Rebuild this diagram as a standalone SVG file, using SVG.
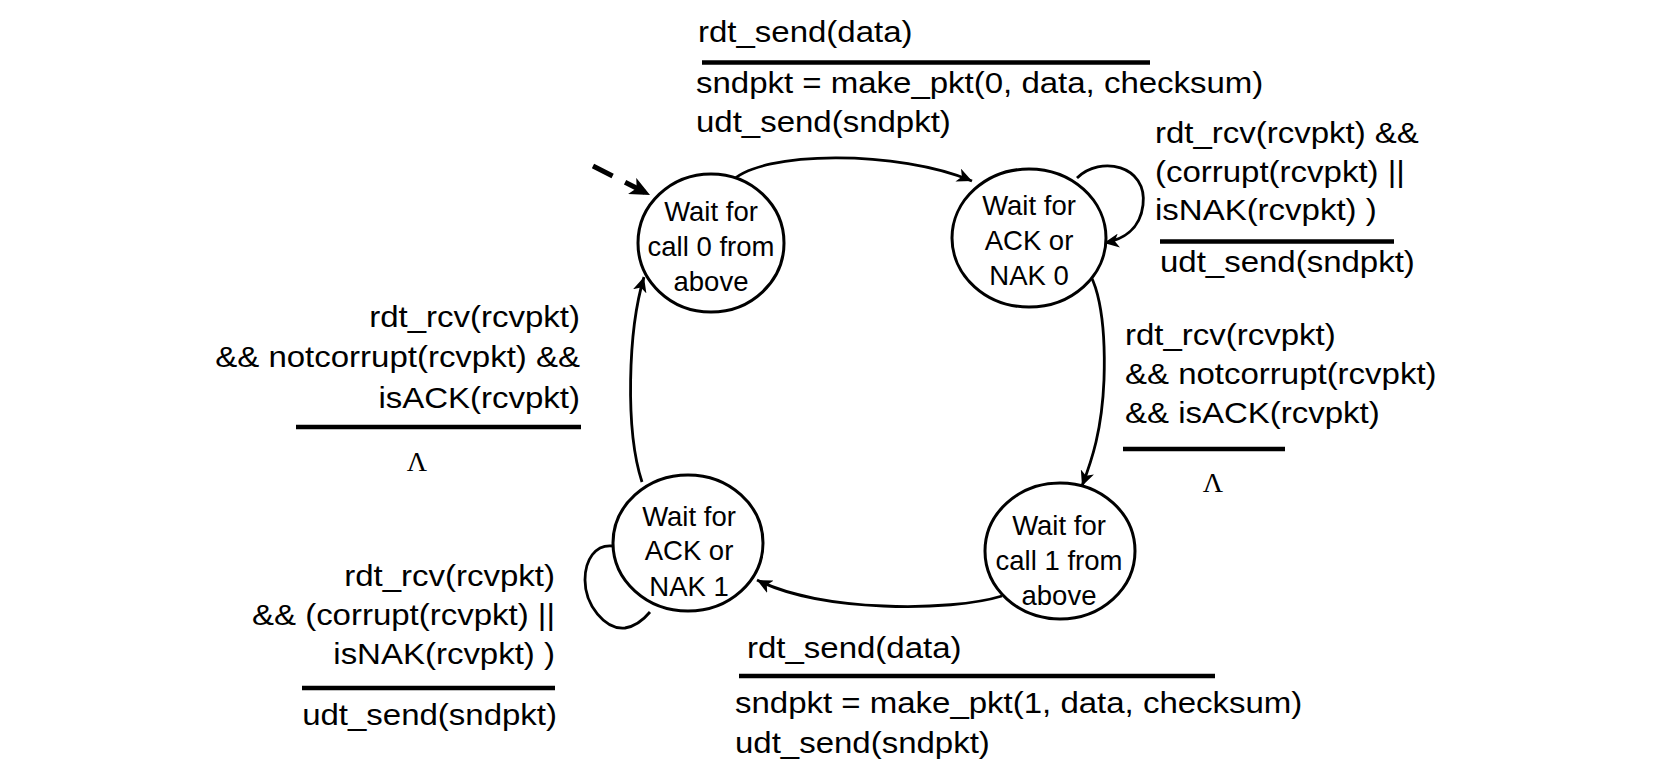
<svg xmlns="http://www.w3.org/2000/svg" width="1661" height="783" viewBox="0 0 1661 783">
<style>
.lbl{font-family:"Liberation Sans",Arial,sans-serif;font-size:30px;fill:#000}
.r{text-anchor:end}
.st{font-family:"Liberation Sans",Arial,sans-serif;font-size:27.5px;fill:#000;text-anchor:middle}
.lam{font-family:"Liberation Serif","Times New Roman",serif;font-size:28px;fill:#000;text-anchor:middle}
.node{fill:#fff;stroke:#000;stroke-width:3}
.bar{stroke:#000;stroke-width:4.5}
.edge{fill:none;stroke:#000;stroke-width:2.8}
</style>
<defs>
<marker id="ah" markerUnits="userSpaceOnUse" markerWidth="16" markerHeight="14" refX="15" refY="7" orient="auto">
<path d="M0,0 L15,7 L0,14 L4,7 z" fill="#000"/>
</marker>
<marker id="ahb" markerUnits="userSpaceOnUse" markerWidth="22" markerHeight="18" refX="20" refY="9" orient="auto">
<path d="M0,0 L20,9 L0,18 L5,9 z" fill="#000"/>
</marker>
</defs>
<rect width="1661" height="783" fill="#fff"/>

<g id="connectors">
<line x1="593" y1="166" x2="650" y2="195" stroke="#000" stroke-width="5" stroke-dasharray="22 14" marker-end="url(#ahb)"/>
<path class="edge" d="M731 182 C760 150 900 150 972 181" marker-end="url(#ah)"/>
<path class="edge" d="M1077 178 C1100 155 1148 165 1143 205 C1140 230 1122 240 1104 243" marker-end="url(#ah)"/>
<path class="edge" d="M1078 262 C1098 272 1106 320 1104 380 C1102 430 1092 460 1082 486" marker-end="url(#ah)"/>
<path class="edge" d="M1002 596 C950 612 820 612 757 580" marker-end="url(#ah)"/>
<path class="edge" d="M642 482 C625 430 628 330 644 277" marker-end="url(#ah)"/>
<path class="edge" d="M613 546 C595 544 585 560 585 580 C585 605 605 630 625 628 C637 626 645 618 650 612"/>
</g>

<g id="s0">
<ellipse class="node" cx="711" cy="243" rx="73" ry="69"/>
<text class="st" transform="translate(711,221) scale(1.0,1)">Wait for</text>
<text class="st" transform="translate(711,256) scale(1.0,1)">call 0 from</text>
<text class="st" transform="translate(711,291) scale(1.0,1)">above</text>
</g>
<g id="s1">
<ellipse class="node" cx="1029" cy="238" rx="77" ry="69"/>
<text class="st" transform="translate(1029,215) scale(1.0,1)">Wait for</text>
<text class="st" transform="translate(1029,250) scale(1.0,1)">ACK or</text>
<text class="st" transform="translate(1029,285) scale(1.0,1)">NAK 0</text>
</g>
<g id="s2">
<ellipse class="node" cx="688" cy="543" rx="75" ry="68"/>
<text class="st" transform="translate(689,526) scale(1.0,1)">Wait for</text>
<text class="st" transform="translate(689,560) scale(1.0,1)">ACK or</text>
<text class="st" transform="translate(689,596) scale(1.0,1)">NAK 1</text>
</g>
<g id="s3">
<ellipse class="node" cx="1060" cy="551" rx="75" ry="68"/>
<text class="st" transform="translate(1059,535) scale(1.0,1)">Wait for</text>
<text class="st" transform="translate(1059,570) scale(1.0,1)">call 1 from</text>
<text class="st" transform="translate(1059,605) scale(1.0,1)">above</text>
</g>

<g id="label-top">
<text class="lbl" transform="translate(698,42) scale(1.1,1)">rdt_send(data)</text>
<line class="bar" x1="702" y1="62.5" x2="1150" y2="62.5"/>
<text class="lbl" transform="translate(696,93) scale(1.1,1)">sndpkt = make_pkt(0, data, checksum)</text>
<text class="lbl" transform="translate(696,132) scale(1.1,1)">udt_send(sndpkt)</text>
</g>
<g id="label-right-upper">
<text class="lbl" transform="translate(1155,143) scale(1.1,1)">rdt_rcv(rcvpkt) &amp;&amp;</text>
<text class="lbl" transform="translate(1155,182) scale(1.1,1)">(corrupt(rcvpkt) ||</text>
<text class="lbl" transform="translate(1155,220) scale(1.1,1)">isNAK(rcvpkt) )</text>
<line class="bar" x1="1160" y1="241.5" x2="1394" y2="241.5"/>
<text class="lbl" transform="translate(1160,272) scale(1.1,1)">udt_send(sndpkt)</text>
</g>
<g id="label-right-mid">
<text class="lbl" transform="translate(1125,345) scale(1.1,1)">rdt_rcv(rcvpkt)</text>
<text class="lbl" transform="translate(1125,384) scale(1.1,1)">&amp;&amp; notcorrupt(rcvpkt)</text>
<text class="lbl" transform="translate(1125,423) scale(1.1,1)">&amp;&amp; isACK(rcvpkt)</text>
<line class="bar" x1="1123" y1="449" x2="1285" y2="449"/>
<text class="lam" x="1213" y="492">Λ</text>
</g>
<g id="label-left-mid">
<text class="lbl r" transform="translate(580,327) scale(1.1,1)">rdt_rcv(rcvpkt)</text>
<text class="lbl r" transform="translate(580,367) scale(1.1,1)">&amp;&amp; notcorrupt(rcvpkt) &amp;&amp;</text>
<text class="lbl r" transform="translate(580,408) scale(1.1,1)">isACK(rcvpkt)</text>
<line class="bar" x1="296" y1="427" x2="581" y2="427"/>
<text class="lam" x="417" y="471">Λ</text>
</g>
<g id="label-left-bottom">
<text class="lbl r" transform="translate(555,586) scale(1.1,1)">rdt_rcv(rcvpkt)</text>
<text class="lbl r" transform="translate(555,625) scale(1.1,1)">&amp;&amp; (corrupt(rcvpkt) ||</text>
<text class="lbl r" transform="translate(555,664) scale(1.1,1)">isNAK(rcvpkt) )</text>
<line class="bar" x1="302" y1="688" x2="555" y2="688"/>
<text class="lbl r" transform="translate(557,725) scale(1.1,1)">udt_send(sndpkt)</text>
</g>
<g id="label-bottom">
<text class="lbl" transform="translate(747,658) scale(1.1,1)">rdt_send(data)</text>
<line class="bar" x1="739" y1="676" x2="1215" y2="676"/>
<text class="lbl" transform="translate(735,713) scale(1.1,1)">sndpkt = make_pkt(1, data, checksum)</text>
<text class="lbl" transform="translate(735,753) scale(1.1,1)">udt_send(sndpkt)</text>
</g>
</svg>
